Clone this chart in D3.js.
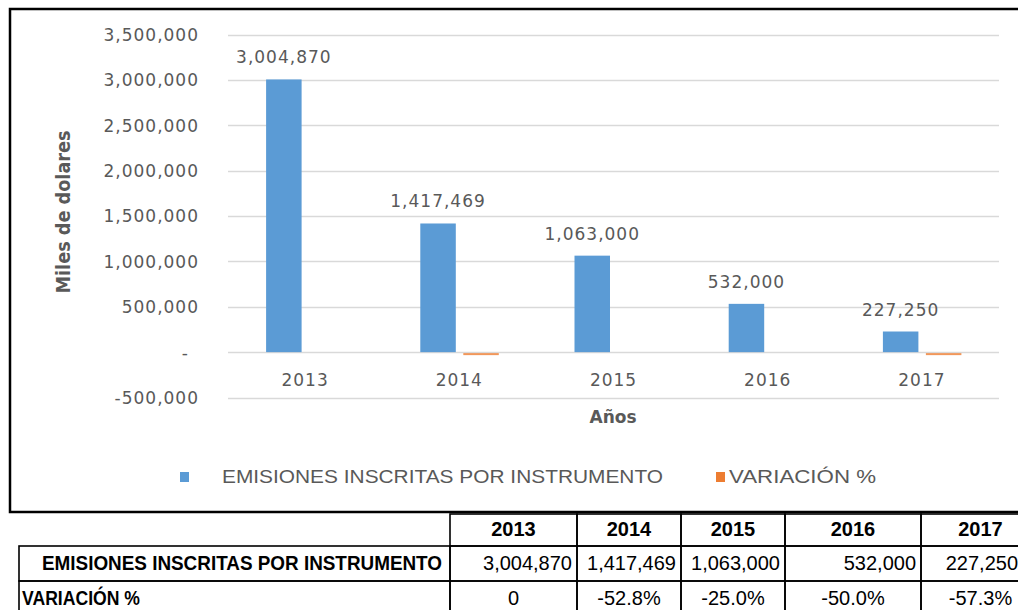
<!DOCTYPE html>
<html>
<head>
<meta charset="utf-8">
<script src="https://cdn.jsdelivr.net/npm/d3@7"></script>
<style>
  body { margin: 0; background: #fff; }
  svg { display: block; }
</style>
</head>
<body>
<svg width="1018" height="610"></svg>
<script>
var years = ["2013", "2014", "2015", "2016", "2017"];
var emisiones = [3004870, 1417469, 1063000, 532000, 227250];
var variacion = [0, -52.8, -25.0, -50.0, -57.3];
var variacionLabels = ["0", "-52.8%", "-25.0%", "-50.0%", "-57.3%"];
var yTicks = [-500000, 0, 500000, 1000000, 1500000, 2000000, 2500000, 3000000, 3500000];
var seriesNames = ["EMISIONES INSCRITAS POR INSTRUMENTO", "VARIACIÓN %"];

var blue = "#5b9bd5", orange = "#ed7d31", grey = "#595959";
var fmt = function (d) { return d3.format(",")(d).replace("\u2212", "-"); };

var svg = d3.select("svg");

// chart frame
svg.append("rect")
  .attr("x", 10).attr("y", 9)
  .attr("width", 1030).attr("height", 503)
  .attr("fill", "#fff")
  .attr("stroke", "#000")
  .attr("stroke-width", 2.5);

var x = d3.scaleBand()
  .domain(years)
  .range([228, 999]);

var y = d3.scaleLinear()
  .domain([-500000, 3500000])
  .range([397.5, 34.5]);

var g = svg.append("g");

// gridlines
g.selectAll("line.grid")
  .data(yTicks)
  .enter()
  .append("line")
  .attr("class", "grid")
  .attr("x1", 228).attr("x2", 999)
  .attr("y1", function (d) { return Math.round(y(d)) + 0.5; })
  .attr("y2", function (d) { return Math.round(y(d)) + 0.5; })
  .attr("stroke", "#d9d9d9")
  .attr("stroke-width", 1.3);

// y axis labels
var yAxis = d3.axisLeft(y)
  .tickValues(yTicks)
  .tickSize(0)
  .tickPadding(0)
  .tickFormat(function (d) { return d === 0 ? "-" : fmt(d); });

var ya = g.append("g")
  .attr("transform", "translate(199,0)")
  .call(yAxis);
ya.select(".domain").remove();
ya.selectAll("text")
  .attr("fill", grey)
  .attr("font-family", "DejaVu Sans")
  .attr("font-size", 17)
  .attr("letter-spacing", 1)
  .attr("dy", "0.35em")
  .filter(function (d) { return d === 0; })
  .attr("x", -10);

// x axis labels
var xAxis = d3.axisBottom(x).tickSize(0).tickPadding(0);
var xa = g.append("g")
  .attr("transform", "translate(0," + y(0) + ")")
  .call(xAxis);
xa.select(".domain").remove();
xa.selectAll("text")
  .attr("fill", grey)
  .attr("font-family", "DejaVu Sans")
  .attr("font-size", 17)
  .attr("letter-spacing", 1)
  .attr("dy", 0)
  .attr("y", 34);

var barW = 35.5;

// blue bars
g.selectAll("rect.emi")
  .data(emisiones)
  .enter()
  .append("rect")
  .attr("class", "emi")
  .attr("x", function (d, i) { return x(years[i]) + x.bandwidth() / 2 - 39; })
  .attr("y", function (d) { return y(d); })
  .attr("width", barW)
  .attr("height", function (d) { return y(0) - y(d); })
  .attr("fill", blue);

// orange bars (tiny on this scale; Excel paints a sliver for the largest drops)
g.selectAll("rect.var")
  .data(variacion)
  .enter()
  .append("rect")
  .attr("class", "var")
  .attr("x", function (d, i) { return x(years[i]) + x.bandwidth() / 2 + 4; })
  .attr("y", y(0) + 1)
  .attr("width", barW)
  .attr("height", function (d) { return Math.max(y(d) - y(0), d < -50 ? 2 : 0); })
  .attr("fill", orange)
  .attr("opacity", 0.8);

// data labels
g.selectAll("text.lab")
  .data(emisiones)
  .enter()
  .append("text")
  .attr("class", "lab")
  .attr("x", function (d, i) { return x(years[i]) + x.bandwidth() / 2 - 39 + barW / 2; })
  .attr("y", function (d) { return y(d) - 16; })
  .attr("text-anchor", "middle")
  .attr("fill", grey)
  .attr("font-family", "DejaVu Sans")
  .attr("font-size", 17)
  .attr("letter-spacing", 1)
  .text(function (d) { return fmt(d); });

// axis titles
svg.append("text")
  .attr("transform", "translate(70,212) rotate(-90)")
  .attr("text-anchor", "middle")
  .attr("fill", grey)
  .attr("font-family", "DejaVu Sans")
  .attr("font-weight", "bold")
  .attr("font-size", 19)
  .attr("textLength", 163)
  .attr("lengthAdjust", "spacingAndGlyphs")
  .text("Miles de dolares");

svg.append("text")
  .attr("x", 613).attr("y", 423)
  .attr("text-anchor", "middle")
  .attr("fill", grey)
  .attr("font-family", "DejaVu Sans")
  .attr("font-weight", "bold")
  .attr("font-size", 17)
  .text("Años");

// legend
var legend = [
  { name: seriesNames[0], color: blue, sx: 180, tx: 222, len: 441 },
  { name: seriesNames[1], color: orange, sx: 716, tx: 729, len: 147 }
];
legend.forEach(function (l) {
  svg.append("rect")
    .attr("x", l.sx).attr("y", 472)
    .attr("width", 9).attr("height", 10)
    .attr("fill", l.color);
  svg.append("text")
    .attr("x", l.tx).attr("y", 483)
    .attr("fill", grey)
    .attr("font-family", "Liberation Sans")
    .attr("font-size", 18)
    .attr("textLength", l.len)
    .attr("lengthAdjust", "spacingAndGlyphs")
    .text(l.name);
});

// data table below the chart
var cols = [450, 577, 681, 785, 921, 1040];
var rowsY = [514, 546, 581, 616];
var tf = "'Liberation Sans Narrow', 'Liberation Sans', sans-serif";
var tb = svg.append("g")
  .attr("stroke", "#000")
  .attr("stroke-width", 1.6)
  .attr("fill", "none");

// header cells
years.forEach(function (yr, i) {
  tb.append("rect")
    .attr("x", cols[i]).attr("y", rowsY[0])
    .attr("width", cols[i + 1] - cols[i]).attr("height", rowsY[1] - rowsY[0]);
  svg.append("text")
    .attr("x", (cols[i] + cols[i + 1]) / 2)
    .attr("y", 536)
    .attr("text-anchor", "middle")
    .attr("font-family", tf)
    .attr("font-weight", "bold")
    .attr("font-size", 20)
    .text(yr);
});

var rows = [
  { label: seriesNames[0], vals: emisiones.map(fmt), anchor: "end", lx: 42, len: 400 },
  { label: seriesNames[1], vals: variacionLabels, anchor: "middle", lx: 22, len: 118 }
];
rows.forEach(function (r, ri) {
  var y0 = rowsY[ri + 1], y1 = rowsY[ri + 2];
  tb.append("rect")
    .attr("x", 19).attr("y", y0)
    .attr("width", cols[0] - 19).attr("height", y1 - y0);
  svg.append("text")
    .attr("x", r.lx).attr("y", y0 + 24)
    .attr("font-family", tf)
    .attr("font-weight", "bold")
    .attr("font-size", 20)
    .attr("textLength", r.len)
    .attr("lengthAdjust", "spacingAndGlyphs")
    .text(r.label);
  r.vals.forEach(function (v, i) {
    tb.append("rect")
      .attr("x", cols[i]).attr("y", y0)
      .attr("width", cols[i + 1] - cols[i]).attr("height", y1 - y0);
    svg.append("text")
      .attr("x", r.anchor === "end" ? Math.min(cols[i + 1] - 5, 1018) : (cols[i] + cols[i + 1]) / 2)
      .attr("y", y0 + 24)
      .attr("text-anchor", r.anchor)
      .attr("font-family", tf)
      .attr("font-size", 20)
      .text(v);
  });
});
</script>
</body>
</html>
